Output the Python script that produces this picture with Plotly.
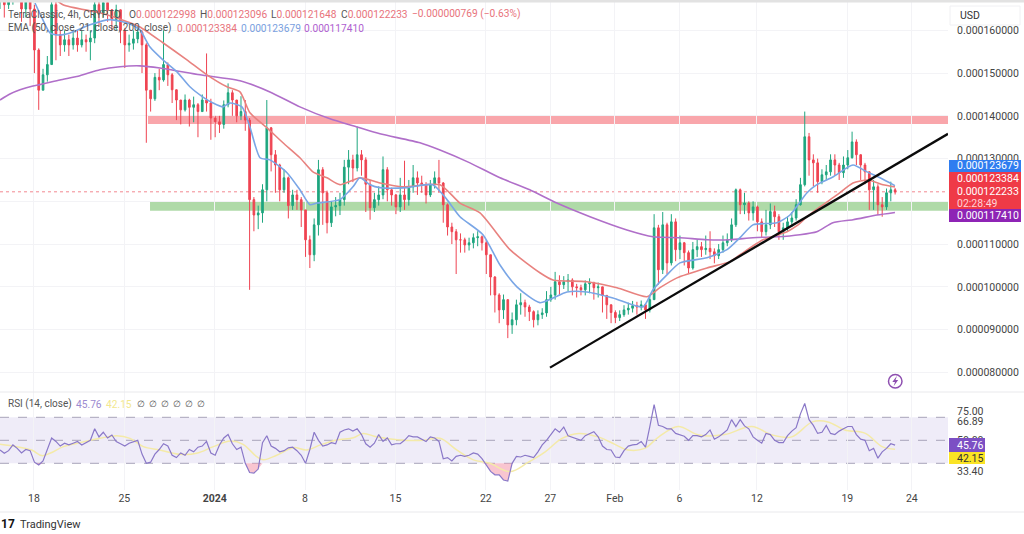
import numpy as np
import plotly.graph_objects as go

# ---- data: prices in units of 1e-6, time in days since 18 Dec 2023 ----
closes = [
168,166,168,169,170,165,167,165,155.4,146,
149.6,152,166,159,156.6,157.8,156.6,158.2,156.6,157.8,
157.3,158.2,166,164,166.5,164.8,162.5,164.8,160,156.6,
157,158,159.6,156.6,146,144,149,148.4,152,149.6,
146.1,143.7,141.4,143.7,142,142.6,141,143.7,143,139.5,
138.6,138,142.6,145.4,143.7,140,141,139,120.4,116.8,
117.3,122.7,137.2,130.9,128.5,122.7,125.5,119,121.5,120.4,
118,111,107.5,114.5,127.4,122,115,118.7,119,120.4,
128,129.7,127.8,130.9,129.7,124,118.5,120.4,121.5,127.4,
122.7,121.5,118.7,121.5,120.4,123.4,125.5,124.3,123.9,121.5,
123.9,125.5,124.3,119.2,114,112.9,111,111,109.8,110.3,
111.5,111.7,110.3,107.5,102.3,98.1,94.6,97,91.1,92.3,
95.8,96.3,95.3,94.2,92.3,93.5,93.9,97,98.1,101.2,
100.5,101.2,101.6,100,99.8,99.3,100.7,101,99.8,100,
98,95.8,94,92.8,93.5,94.6,95,95.6,95.3,95.8,
94.6,97,113.8,104,114.5,105.6,115.2,108.7,110.3,108,
104.4,108.7,109.4,108.7,109,108.2,107.3,108.7,110.3,111,
114.5,122.7,119.2,119.6,117.3,118.7,115.2,112.9,114.5,117.6,
116.4,112.9,113.8,115.2,116.1,119.2,123.9,135.1,129.7,129,
124.6,126.2,126.9,129.7,128.5,126.7,128.5,130.2,133.9,130.9,
128.5,126.9,122.7,123.4,119.2,118.7,122,122.7,122.2]
highs = [
172,170,171,172,172,170,170,168,166,155.8,
151,154,168,168,160,160,159,160,160,160,
159,160,170,167,170,167,165,166,164,160.5,
159,160,161,160,157,146,150,151,160,152.5,
150,146,143,145,144,144.5,143,145,154.6,144,
140,140,143.6,147.6,146,143,144.6,143.7,139.5,121,
119,124,143.7,137.4,132,128.8,127.5,125.8,122.7,122.7,
121,118,112,116,129.7,128,122.5,120,121,122,
129.7,132,130.9,137.5,132,130.3,125,122,123.5,130.5,
128,123.2,121.7,125.5,129.5,125,128.5,127,126,124.5,
125,127,129.7,124.5,119.5,115,113.5,112.5,111.5,111.5,
112.5,113,112,111,107.5,102.5,98.5,98.2,97,94,
97,98.5,97,95.8,94.5,94.5,95,99,100,103.5,
102.7,102.5,103,102,100.7,100.5,101.5,102,101.2,101,
100,98,95.5,94.5,94.5,95.7,96.3,96.7,96.5,96.8,
96,98,117,114.5,117.5,115,117,116,112,110.5,
108.5,110.5,111,110.5,112,113,109,110,112,112.5,
116,123,123,122,120,120,119,116,118,119.5,
119,117,115,116.5,117.5,120.5,125.5,141,136,131,
130,127.5,128.5,131,131,129,130.5,132,136.3,134.5,
131,129,127,125,124,121,123,124.6,123.1]
lows = [
165,163,165,166,167,162,163,161,150,141.4,
146,148,153,153,154,155,154,155.5,155,156,
155,153,157,161,163,162,160,160,157,151.2,
155,155.5,157,150,133.7,141,143.5,146,148,147,
143,139,138,141,137.5,138.5,135,141,141,134.4,
135,136,137,142,140,138.5,139,136.5,99.3,113,
113.5,115,120,127,122,120,122,116,118,118,
114,107,104.4,106,112,114.5,112.5,114,116.5,116.8,
119,124,124.5,127,126,117.5,115.7,117.5,119,120.5,
120,119,117,117.5,118,119,122,121.5,122,119.5,
121,123,122,115,112,110,103,108,108,108.5,
109,109.5,108.5,103,98,94,91.5,92.5,88,89,
91,93.5,93,92,90.5,91,92.5,93,96.5,97,
98,99.5,99,98,97.5,98,98,98.5,97,97.5,
94,92.5,91.5,91.5,92,93,93.5,94,93.5,94.5,
92.5,94,97,100.5,103,103,105,106,106.5,105,
103,104,107,107,107.5,106.5,105.5,106.5,108,109.5,
110.5,114,117,117,115.5,115.5,113,111.5,112,113.5,
114,111,111,113,114,115.5,119,123.5,126,123.5,
122,124,125,126,126,125,125.5,127.5,130,128.5,
125,124,118,118,116.8,116.4,118,120,121.6]
first_open = 167

ema200_day = [-2.63,-1.86,-1.08,-.08,.46,2.01,3.56,5.11,6.66,8.21,9.76,12.86,15.96,18.28,20.6,22.93,25.02,26.8,29.9,31.45,33.77,36.1,38.4,40.5,43.07,45.93,47.95,50.04,52.13,53.91,55.69,57.55,59.33,60.64,61.88,63.44,65.3,66.69]
ema200 = [143.7,145.1,146.1,147,147.3,148.4,149.4,150.8,151.5,151.7,151.2,149.6,148.2,145.6,142.1,139.3,137.4,135.8,133.7,132,129,125.5,122.7,119.6,116.4,113.3,111.7,111.5,111,111,111.5,111.7,112.2,112.9,115,115.7,116.8,117.41]

ema50_day = [1.0,2.25,5.11,7.44,8.21,9.99,11.85,13.4,14.95,15.96,16.73,18.05,19.29,20.6,21.61,22.7,23.7,25.25,26.8,28.58,31.45,33,34.55,36.87,39.19,40.2,42.83,45.16,47.48,48.49,49.81,52.13,53.91,54.69,56.47,58.33,59.1,59.88,60.88,62.2,63.44,64.6,65.76,66.69]
ema50 = [169,166,164.1,161.8,160.8,157.1,153.1,149.6,146.8,145.6,140.7,137.2,133.7,130.2,126.9,125.5,123.9,125.5,124.3,123.4,123.9,119.6,117.3,108.7,103.3,101.6,101.2,99.8,97.7,99.8,102.1,104.4,105.9,107.5,111,112.9,114.3,116.4,118.7,121.5,124.3,125,123.9,123.384]

ema21_day = [.08,.62,1.24,1.86,2.79,4.34,5.89,7.44,8.21,8.99,9.99,11.08,12.08,13.09,13.87,14.64,15.18,16.11,16.73,17.51,18.28,19.6,20.6,21.38,21.92,23.7,24.71,25.25,26.03,26.8,28.89,30.9,31.99,33,34.78,36.1,37.41,39.19,41.29,42.83,44.85,47.17,47.95,49.03,50.04,52.13,53.68,54.69,55.69,57.55,58.56,59.88,60.64,61.88,63.44,64.52,65.53,66.69]
ema21 = [166.4,162.9,159.4,158.9,159.4,161.3,162.5,161.5,160.1,156.1,153.1,150.3,146.8,144.4,143,142.1,143,142.1,137.4,130.2,129.7,126.7,122.7,119.2,119.6,120.4,123.4,125.5,123.9,123.2,123.2,123.9,120.4,116.4,112.2,105.1,100,96.3,98.8,98.8,97.4,95.3,99.3,102.8,105.6,106.8,108.7,111.5,114.5,115,116.8,122,123.9,125.7,128.5,126.9,125.5,123.679]

rsi = [
41.6,38.7,41,46,43,39,42,41,31,28.5,
32,42,52,49,45,47.5,46,47.5,49,46,
48,50,60,53,57,52,54.6,49,47,45,
47.5,49,50,38,30,31,38,42,47,45,
37,35,39,37,42,40,44,45,49,39,
37,46,52,55,47,42,44,30,22,21.5,
25,48,54,45,43,40,41,43.5,44,41,
37,30,42,57,50,45,46,48,47,57,
59,60,58,60,55,47,44,47.5,55,49,
52,46,47,47,50,54,53,53,51,49,
53,52,49,34,35,32,36,37,36,37,
39,38,34,29,23,20,20,15.5,14.6,30,
36,35.5,37,36,35,40,46,50,55,60,
57,61.5,54,52.5,51,50,54,55.5,57.5,53,
45,42,41.6,35.5,35,41,45,46,46.5,49,
44,62,81,63,62,60,60,56,55,53.5,
50,54,54,53,55,59,51,53,56,59,
68,62,68,62.5,60,53,50,47.5,56,55,
50,48,48,54,58,61,73,82,68,63,
56,57,63,56,55,58,60,62,62,55,
51,50,41,43,34.5,40,43,47,45.76]

rsi_ma_day = [-2.63,-1.34,-.18,.6,1.24,2.28,3.57,5.12,6.41,7.44,8.47,9.76,11.3,12.6,13.9,15.2,16.2,17.25,17.77,18.8,20.1,21.1,22.2,23.45,24.74,25.5,26.55,28.35,30.16,31.45,32.74,34.03,35.3,36.87,38.3,39.6,40.9,42.2,43.7,45,46,47.3,48.4,49.9,51.5,53.5,55.6,57.2,58.7,60.3,61.5,62.8,64.4,65.7,66.7]
rsi_ma = [46.5,44.5,41.6,36.7,38.7,44.5,48,51.7,54,51.7,44.5,41.6,37.8,38.7,44.5,49.4,46.5,35.8,33,37,43.6,41.6,46,50.3,52.3,56,53,50.3,50,51.7,41.6,33,30,22.8,31,40,51.7,56,53,46.5,41.6,43,53,62,54.6,55,62,54.6,53,66,66,59,56,44.5,42.15]

trend_day = [39.97, 70.8]
trend_price = [81.1, 135.8]
res_band = [138.1, 140.0]
sup_band = [117.8, 119.9]
band_start_day = [8.83, 8.99]
last_price = 122.233

price_ticks = [80,90,100,110,120,130,140,150,160]
hidden_price_ticks = [120]   # covered by the value tags in the reference
time_ticks = [0,7,14,21,28,35,40,45,50,56,63,68]
time_labels = ['18','25','<b>2024</b>','8','15','22','27','Feb','6','12','19','24']
rsi_ticks = [75,66.89,50]
rsi_labels = ['75.00','66.89','50.00']
rsi_levels = [70,50,30]

# ---- layout constants ----
W, H = 1024, 534
PW, PH = 948, 490
X_RANGE = [-2.63, 70.8]
FONT = 'Roboto'
RED, GREEN = '#ef4452', '#1fa67f'
BLUE, PINK, PURPLE = '#7aa6e6', '#e8827f', '#b06fc9'

days = [-2.63 + i / 3 for i in range(len(closes))]
opens = [first_open] + closes[:-1]
px = lambda v: v / PW
py = lambda v: (PH - v) / PH

fig = go.Figure()
fig.add_trace(go.Candlestick(x=days, open=opens, high=highs, low=lows, close=closes,
    xaxis='x', yaxis='y', whiskerwidth=0,
    increasing=dict(line=dict(color=GREEN, width=1), fillcolor=GREEN),
    decreasing=dict(line=dict(color=RED, width=1), fillcolor=RED)))
for xs, ys, col in [(ema200_day, ema200, PURPLE), (ema50_day, ema50, PINK), (ema21_day, ema21, BLUE)]:
    fig.add_trace(go.Scatter(x=xs, y=ys, mode='lines', line=dict(color=col, width=1.6, shape='spline', smoothing=0.6),
                             xaxis='x', yaxis='y'))
fig.add_trace(go.Scatter(x=trend_day, y=trend_price, mode='lines', line=dict(color='#0b0b0b', width=2.3),
                         xaxis='x', yaxis='y'))

fig.add_trace(go.Scatter(x=days, y=[30] * len(days), mode='lines', line=dict(width=0), xaxis='x2', yaxis='y2'))
fig.add_trace(go.Scatter(x=days, y=np.minimum(rsi, 30), mode='lines', line=dict(width=0), fill='tonexty',
                         fillcolor='rgba(244,150,170,0.55)', xaxis='x2', yaxis='y2'))
fig.add_trace(go.Scatter(x=rsi_ma_day, y=rsi_ma, mode='lines', line=dict(color='#f4eaa8', width=1.5, shape='spline'),
                         xaxis='x2', yaxis='y2'))
fig.add_trace(go.Scatter(x=days, y=rsi, mode='lines', line=dict(color='#8a78c8', width=1.2), xaxis='x2', yaxis='y2'))

shapes = [
    dict(type='rect', xref='x', yref='y', x0=band_start_day[0], x1=X_RANGE[1], y0=res_band[0], y1=res_band[1],
         fillcolor='#f9a6ab', line_width=0, layer='below'),
    dict(type='rect', xref='x', yref='y', x0=band_start_day[1], x1=X_RANGE[1], y0=sup_band[0], y1=sup_band[1],
         fillcolor='#afdaa8', line_width=0, layer='below'),
    dict(type='line', xref='x', yref='y', x0=X_RANGE[0], x1=X_RANGE[1], y0=last_price, y1=last_price,
         line=dict(color='#ef6b75', width=0.8, dash='dot'), layer='below'),
    dict(type='rect', xref='x2', yref='y2', x0=X_RANGE[0], x1=X_RANGE[1], y0=rsi_levels[2], y1=rsi_levels[0],
         fillcolor='#efecf8', line_width=0, layer='below'),
]
for lv in rsi_levels:
    shapes.append(dict(type='line', xref='x2', yref='y2', x0=X_RANGE[0], x1=X_RANGE[1], y0=lv, y1=lv,
                       line=dict(color='#a8a4ba', width=1, dash='dash'), layer='below'))

def hline(y, col='#e9e9ec', w=1):
    shapes.append(dict(type='line', xref='paper', yref='paper', x0=0, x1=W / PW, y0=py(y), y1=py(y),
                       line=dict(color=col, width=w)))
hline(392); hline(512)
shapes.append(dict(type='rect', xref='paper', yref='paper', x0=0, x1=W / PW, y0=py(2.5), y1=py(0),
                   fillcolor='#e2e2e2', line_width=0))

def box(x0, x1, y0, y1, col, line='rgba(0,0,0,0)'):
    shapes.append(dict(type='rect', xref='paper', yref='paper', x0=px(x0), x1=px(x1), y0=py(y1), y1=py(y0),
                       fillcolor=col, line=dict(color=line, width=1)))

box(950, 1020, 6, 25, '#ffffff', '#f0f0f3')
box(949, 1021, 160, 172, '#2f7df0')
box(949, 1021, 172, 209, '#ef3a47')
box(949, 1021, 209, 222, '#8e24b5')
box(949, 985, 438, 452, '#7c4fc4')
box(949, 985, 452, 464, '#fbe425')
shapes.append(dict(type='circle', xref='paper', yref='paper', x0=px(888.5), x1=px(902), y0=py(388), y1=py(374.5),
                   line=dict(color='#8e4fb0', width=1.5), fillcolor='#ffffff'))
bolt = [(897, 375.8), (892.3, 382), (895, 382), (893.6, 386.2), (898.2, 380), (895.5, 380)]
shapes.append(dict(type='path', xref='paper', yref='paper', fillcolor='#8e4fb0', line_width=0,
                   path='M ' + ' L '.join(f'{px(a):.5f},{py(b):.5f}' for a, b in bolt) + ' Z'))

anns = []
def label(x, y, text, color='#444444', size=10, anchor='left', **kw):
    anns.append(dict(xref='paper', yref='paper', x=px(x), y=py(y), text=text, showarrow=False, xanchor=anchor,
                     yanchor='middle', font=dict(family=FONT, size=size, color=color), **kw))

VAL = '#e8737c'
label(6, 14, 'TerraClassic, 4h, CRYPTO', '#555555', 10)
for x, pre, val in [(127, 'O', '0.000122998'), (198, 'H', '0.000123096'), (269, 'L', '0.000121648'), (339, 'C', '0.000122233')]:
    label(x, 14, f'<span style="color:#555555">{pre}</span>{val}', VAL, 10.2)
label(410, 14, '−0.000000769 (−0.63%)', VAL, 10.2)
label(6, 28, 'EMA (50, close, 21, close, 200, close)', '#555555', 10)
label(175, 28, '0.000123384', VAL, 10.2)
label(239, 28, '0.000123679', '#7a9fe0', 10.2)
label(302, 28, '0.000117410', '#b05fd0', 10.2)
label(958, 15, 'USD', '#333333', 10.5)

tag = 10.5
label(955, 166, '0.000123679', '#ffffff', tag)
label(955, 178, '0.000123384', '#ffffff', tag)
label(955, 191, '0.000122233', '#ffffff', tag)
label(955, 203, '02:28:49', '#ffd5d8', tag)
label(955, 216, '0.000117410', '#ffffff', tag)
label(955, 445, '45.76', '#ffffff', tag)
label(955, 458, '42.15', '#333333', tag)
label(955, 471, '33.40', '#444444', tag)

label(6, 404, 'RSI (14, close)', '#555555', 10)
label(74, 404, '45.76', '#9c8ad0', 10.2)
label(104, 404, '42.15', '#f2e88f', 10.2)
for xx in [135, 147, 159, 171, 183, 195]:
    label(xx, 404, '∅', '#555555', 9)

label(-1, 524, '<b>17</b>', '#111111', 12)
label(18, 524, 'TradingView', '#333333', 11)

axis_font = dict(family=FONT, size=10.5, color='#444444')
grid = '#f3f3f6'
fig.update_layout(
    width=W, height=H, autosize=False, showlegend=False, paper_bgcolor='white', plot_bgcolor='white',
    margin=dict(l=0, r=W - PW, t=0, b=H - PH), boxgap=0.45, hovermode=False,
    shapes=shapes, annotations=anns,
    xaxis=dict(domain=[0, 1], range=X_RANGE, anchor='y', tickvals=time_ticks, showticklabels=False, showgrid=True,
               gridcolor=grid, zeroline=False, ticks='', rangeslider=dict(visible=False), showline=False),
    yaxis=dict(domain=[0.2, 1], range=[75.4, 167.1], anchor='x', side='right', tickvals=price_ticks,
               ticktext=['' if v in hidden_price_ticks else f'{v / 1e6:.9f}' for v in price_ticks], tickfont=axis_font,
               showgrid=True, gridcolor=grid, zeroline=False, ticks='outside', ticklen=6, tickcolor='rgba(0,0,0,0)',
               showline=False),
    xaxis2=dict(domain=[0, 1], range=X_RANGE, anchor='y2', tickvals=time_ticks, ticktext=time_labels, tickangle=0,
                tickfont=axis_font, showgrid=True, gridcolor=grid, zeroline=False, ticks='', showline=False),
    yaxis2=dict(domain=[0, 0.2], range=[6.8, 92], anchor='x2', side='right', tickvals=rsi_ticks, ticktext=rsi_labels,
                tickfont=axis_font, showgrid=False, zeroline=False, ticks='outside', ticklen=6,
                tickcolor='rgba(0,0,0,0)', showline=False),
)
fig.write_html('out.html', config=dict(displayModeBar=False),
               post_script="document.body.style.margin='0';document.body.style.overflow='hidden';")
